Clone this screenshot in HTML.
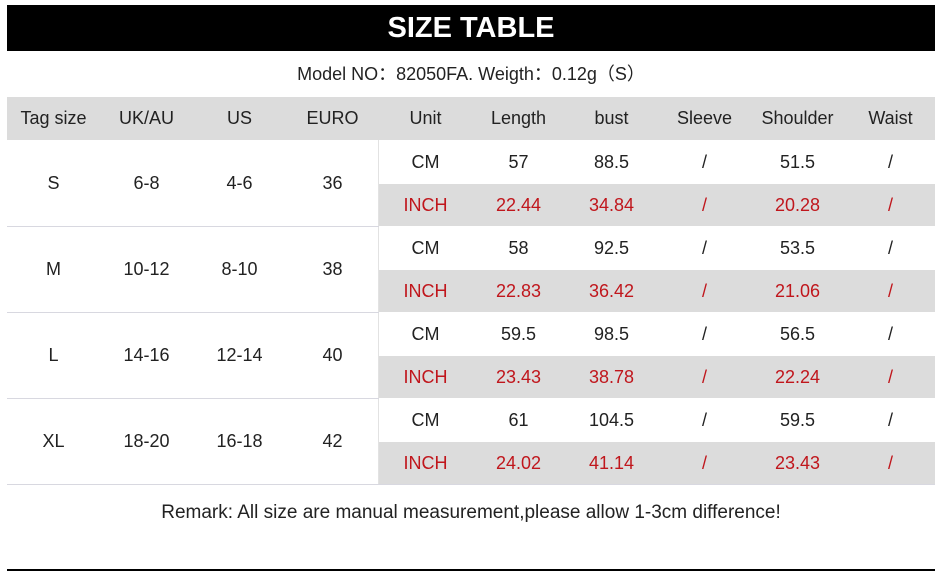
<!DOCTYPE html>
<html><head><meta charset="utf-8"><style>
body{margin:0;width:942px;height:582px;background:#fff;position:relative;overflow:hidden;font-family:"Liberation Sans",sans-serif;color:#222}
.a{position:absolute}
.t{position:absolute;width:93px;text-align:center;font-size:18px;line-height:43px}
.r{color:#c0161c}
.g{position:absolute;background:#dcdcdc}
.l{position:absolute;background:#d8d8e0;height:1px}
</style></head><body>
<div class="a" style="left:7px;top:5px;width:928px;height:46px;background:#000;color:#fff;font-weight:bold;font-size:29px;line-height:46px;text-align:center">SIZE TABLE</div>
<div class="a" style="left:7px;top:62px;width:928px;text-align:center;font-size:18px;line-height:24px">Model NO：82050FA. Weigth：0.12g（S）</div>
<div class="g" style="left:7px;top:97px;width:928px;height:43px"></div>
<div class="g" style="left:379px;top:184px;width:556px;height:42px"></div>
<div class="g" style="left:379px;top:270px;width:556px;height:42px"></div>
<div class="g" style="left:379px;top:356px;width:556px;height:42px"></div>
<div class="g" style="left:379px;top:442px;width:556px;height:42px"></div>
<div class="a" style="left:378px;top:140px;width:1px;height:344px;background:#e2e2e2"></div>
<div class="l" style="left:7px;top:226px;width:372px"></div>
<div class="l" style="left:7px;top:312px;width:372px"></div>
<div class="l" style="left:7px;top:398px;width:372px"></div>
<div class="l" style="left:7px;top:484px;width:928px"></div>
<div class="a" style="left:7px;top:569px;width:928px;height:2px;background:#000"></div>
<div class="a" style="left:7px;top:500px;width:928px;text-align:center;font-size:19px;line-height:26px">Remark: All size are manual measurement,please allow 1-3cm difference!</div>

<div style="position:absolute;left:7px;top:97px">
<div class="t" style="left:0">Tag size</div><div class="t" style="left:93px">UK/AU</div><div class="t" style="left:186px">US</div><div class="t" style="left:279px">EURO</div><div class="t" style="left:372px">Unit</div><div class="t" style="left:465px">Length</div><div class="t" style="left:558px">bust</div><div class="t" style="left:651px">Sleeve</div><div class="t" style="left:744px">Shoulder</div><div class="t" style="left:837px">Waist</div>
</div>

<div style="position:absolute;left:7px;top:141px">
<div class="t" style="left:0;top:21px">S</div><div class="t" style="left:93px;top:21px">6-8</div><div class="t" style="left:186px;top:21px">4-6</div><div class="t" style="left:279px;top:21px">36</div>
<div class="t" style="left:372px">CM</div><div class="t" style="left:465px">57</div><div class="t" style="left:558px">88.5</div><div class="t" style="left:651px">/</div><div class="t" style="left:744px">51.5</div><div class="t" style="left:837px">/</div>
<div class="t r" style="left:372px;top:43px">INCH</div><div class="t r" style="left:465px;top:43px">22.44</div><div class="t r" style="left:558px;top:43px">34.84</div><div class="t r" style="left:651px;top:43px">/</div><div class="t r" style="left:744px;top:43px">20.28</div><div class="t r" style="left:837px;top:43px">/</div>
</div>
<div style="position:absolute;left:7px;top:227px">
<div class="t" style="left:0;top:21px">M</div><div class="t" style="left:93px;top:21px">10-12</div><div class="t" style="left:186px;top:21px">8-10</div><div class="t" style="left:279px;top:21px">38</div>
<div class="t" style="left:372px">CM</div><div class="t" style="left:465px">58</div><div class="t" style="left:558px">92.5</div><div class="t" style="left:651px">/</div><div class="t" style="left:744px">53.5</div><div class="t" style="left:837px">/</div>
<div class="t r" style="left:372px;top:43px">INCH</div><div class="t r" style="left:465px;top:43px">22.83</div><div class="t r" style="left:558px;top:43px">36.42</div><div class="t r" style="left:651px;top:43px">/</div><div class="t r" style="left:744px;top:43px">21.06</div><div class="t r" style="left:837px;top:43px">/</div>
</div>
<div style="position:absolute;left:7px;top:313px">
<div class="t" style="left:0;top:21px">L</div><div class="t" style="left:93px;top:21px">14-16</div><div class="t" style="left:186px;top:21px">12-14</div><div class="t" style="left:279px;top:21px">40</div>
<div class="t" style="left:372px">CM</div><div class="t" style="left:465px">59.5</div><div class="t" style="left:558px">98.5</div><div class="t" style="left:651px">/</div><div class="t" style="left:744px">56.5</div><div class="t" style="left:837px">/</div>
<div class="t r" style="left:372px;top:43px">INCH</div><div class="t r" style="left:465px;top:43px">23.43</div><div class="t r" style="left:558px;top:43px">38.78</div><div class="t r" style="left:651px;top:43px">/</div><div class="t r" style="left:744px;top:43px">22.24</div><div class="t r" style="left:837px;top:43px">/</div>
</div>
<div style="position:absolute;left:7px;top:399px">
<div class="t" style="left:0;top:21px">XL</div><div class="t" style="left:93px;top:21px">18-20</div><div class="t" style="left:186px;top:21px">16-18</div><div class="t" style="left:279px;top:21px">42</div>
<div class="t" style="left:372px">CM</div><div class="t" style="left:465px">61</div><div class="t" style="left:558px">104.5</div><div class="t" style="left:651px">/</div><div class="t" style="left:744px">59.5</div><div class="t" style="left:837px">/</div>
<div class="t r" style="left:372px;top:43px">INCH</div><div class="t r" style="left:465px;top:43px">24.02</div><div class="t r" style="left:558px;top:43px">41.14</div><div class="t r" style="left:651px;top:43px">/</div><div class="t r" style="left:744px;top:43px">23.43</div><div class="t r" style="left:837px;top:43px">/</div>
</div>
</body></html>
